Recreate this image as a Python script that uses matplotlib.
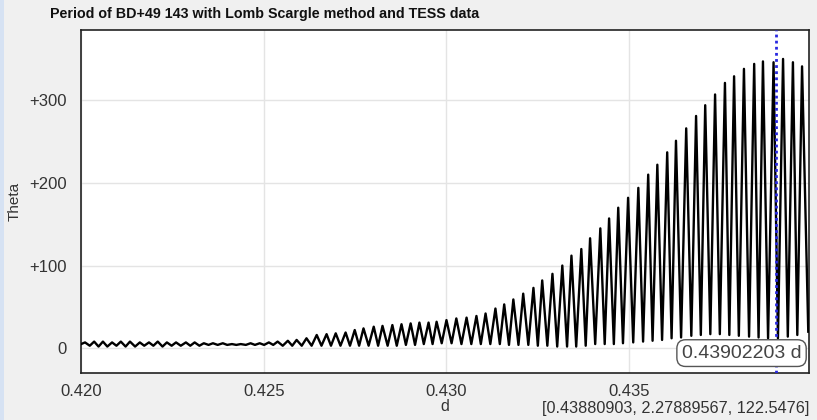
import matplotlib
matplotlib.use("Agg")
import matplotlib.pyplot as plt
from matplotlib import font_manager
from matplotlib.patches import Rectangle
from matplotlib.ticker import FuncFormatter

# periodogram: one peak and one trough per wiggle
peak_period = [
    0.42011, 0.42036, 0.42060, 0.42085, 0.42109, 0.42134, 0.42161, 0.42186, 0.42210, 0.42235,
    0.42260, 0.42287, 0.42311, 0.42336, 0.42361, 0.42388, 0.42413, 0.42437, 0.42464, 0.42489,
    0.42514, 0.42538, 0.42566, 0.42590, 0.42617, 0.42645, 0.42672, 0.42697, 0.42724, 0.42749,
    0.42773, 0.42801, 0.42825, 0.42852, 0.42877, 0.42902, 0.42926, 0.42951, 0.42973, 0.43000,
    0.43027, 0.43055, 0.43082, 0.43107, 0.43134, 0.43158, 0.43183, 0.43210, 0.43238, 0.43262,
    0.43290, 0.43317, 0.43342, 0.43369, 0.43393, 0.43421, 0.43445, 0.43470, 0.43497, 0.43525,
    0.43552, 0.43577, 0.43604, 0.43628, 0.43656, 0.43683, 0.43708, 0.43735, 0.43762, 0.43787,
    0.43814, 0.43842, 0.43866, 0.43895, 0.43921, 0.43948, 0.43973,
]
peak_theta = [
    7, 8, 8, 7, 8, 8, 7, 7, 8, 7, 7, 7, 7, 6, 6, 6, 5, 5, 6,
    6, 7, 8, 9, 10, 12, 16, 17, 18, 19, 22, 24, 26, 27, 28, 29, 30, 31, 31,
    32, 34, 36, 37, 39, 42, 48, 53, 59, 66, 73, 82, 90, 100, 112, 120,
    133, 145, 157, 170, 182, 194, 210, 222, 237, 251, 266, 281, 294, 307, 321, 329,
    338, 344, 347, 346, 350, 346, 341,
]
trough_period = [
    0.41995,
    0.42024, 0.42048, 0.42072, 0.42097, 0.42122, 0.42148, 0.42173, 0.42198, 0.42223, 0.42248,
    0.42273, 0.42299, 0.42324, 0.42349, 0.42374, 0.42400, 0.42425, 0.42451, 0.42476, 0.42501,
    0.42526, 0.42552, 0.42578, 0.42604, 0.42631, 0.42658, 0.42684, 0.42710, 0.42736, 0.42761,
    0.42787, 0.42813, 0.42839, 0.42864, 0.42889, 0.42914, 0.42938, 0.42962, 0.42987, 0.43014,
    0.43041, 0.43068, 0.43094, 0.43120, 0.43146, 0.43171, 0.43197, 0.43224, 0.43250, 0.43276,
    0.43303, 0.43330, 0.43355, 0.43381, 0.43407, 0.43433, 0.43458, 0.43483, 0.43511, 0.43538,
    0.43564, 0.43590, 0.43616, 0.43642, 0.43670, 0.43696, 0.43722, 0.43748, 0.43774, 0.43800,
    0.43828, 0.43854, 0.43880, 0.43907, 0.43934, 0.43960, 0.43990,
]
trough_theta = [
    4,
    3, 2, 2, 3, 2, 2, 3, 3, 2, 3, 3, 3, 3, 4, 4, 4, 4, 4, 4,
    4, 4, 3, 3, 3, 3, 3, 3, 3, 3, 3, 3, 3, 3, 3, 4, 4, 5, 5,
    6, 6, 5, 5, 5, 5, 5, 4, 4, 4, 3, 3, 2, 2, 2, 3,
    5, 5, 5, 6, 7, 8, 9, 10, 12, 13, 15, 16, 17, 17, 16, 15, 14, 13, 12, 12, 14, 16, 20,
]

best_period = 0.43902203
title = "Period of BD+49 143 with Lomb Scargle method and TESS data"
cursor_text = "[0.43880903, 2.27889567, 122.5476]"
x_ticks = [0.420, 0.425, 0.430, 0.435]
y_ticks = [0, 100, 200, 300]

# interleave troughs and peaks into one trace
xs, ys = [], []
for i in range(len(peak_period)):
    xs += [trough_period[i], peak_period[i]]
    ys += [trough_theta[i], peak_theta[i]]
xs.append(trough_period[-1])
ys.append(trough_theta[-1])

plt.rcParams["font.family"] = ["Liberation Sans", "DejaVu Sans"]

# the title looks like a narrow bold face
names = {f.name for f in font_manager.fontManager.ttflist}
if "Liberation Sans Narrow" in names:
    title_font, title_size = ["Liberation Sans Narrow", "DejaVu Sans"], 12.5
else:
    title_font, title_size = ["Liberation Sans", "DejaVu Sans"], 10.3

fig = plt.figure(figsize=(8.17, 4.20), dpi=100)
fig.patch.set_facecolor("#f0f0f0")
fig.patches.append(Rectangle((0, 0), 4 / 817, 1, transform=fig.transFigure,
                             facecolor="#d6e2f3", edgecolor="none"))

ax = fig.add_axes([81 / 817, 1 - 373 / 420, 728 / 817, 343 / 420])
ax.set_facecolor("white")
ax.plot(xs, ys, color="black", lw=1.7, zorder=3)
ax.axvline(best_period, color="#2828e0", ls=(0, (1, 1.2)), lw=2, zorder=4)

ax.set_xlim(0.420, 0.43992)
ax.set_ylim(-30, 385)
ax.set_xticks(x_ticks)
ax.set_yticks(y_ticks)
ax.xaxis.set_major_formatter(FuncFormatter(lambda v, p: f"{v:.3f}"))
ax.yaxis.set_major_formatter(FuncFormatter(lambda v, p: "0" if v == 0 else f"+{v:.0f}"))
ax.tick_params(length=0, labelsize=12, colors="#333333", pad=8)
ax.tick_params(axis="y", pad=10)
ax.grid(True, color="#e4e4e4", lw=1)
ax.set_axisbelow(True)
for s in ax.spines.values():
    s.set_color("#222222")
    s.set_linewidth(1.2)

ax.set_ylabel("Theta", fontsize=11, color="#333333", labelpad=6)
ax.set_xlabel("d", fontsize=11.5, color="#333333", labelpad=0)

fig.text(50 / 817, 1 - 14 / 420, title, fontsize=title_size, fontweight="bold",
         family=title_font, va="center", ha="left", color="#111111")
fig.text(809 / 817, 1 - 408 / 420, cursor_text, fontsize=11.7, color="#333333",
         va="center", ha="right")

ax.text(0.9895, 0.058, f"{best_period:.8f} d", transform=ax.transAxes, fontsize=14,
        color="#444444", ha="right", va="center", zorder=6,
        bbox=dict(boxstyle="round,pad=0.25,rounding_size=0.45", fc="white", ec="#555555", lw=1))

fig.savefig("out.png", dpi=100, facecolor=fig.get_facecolor())
